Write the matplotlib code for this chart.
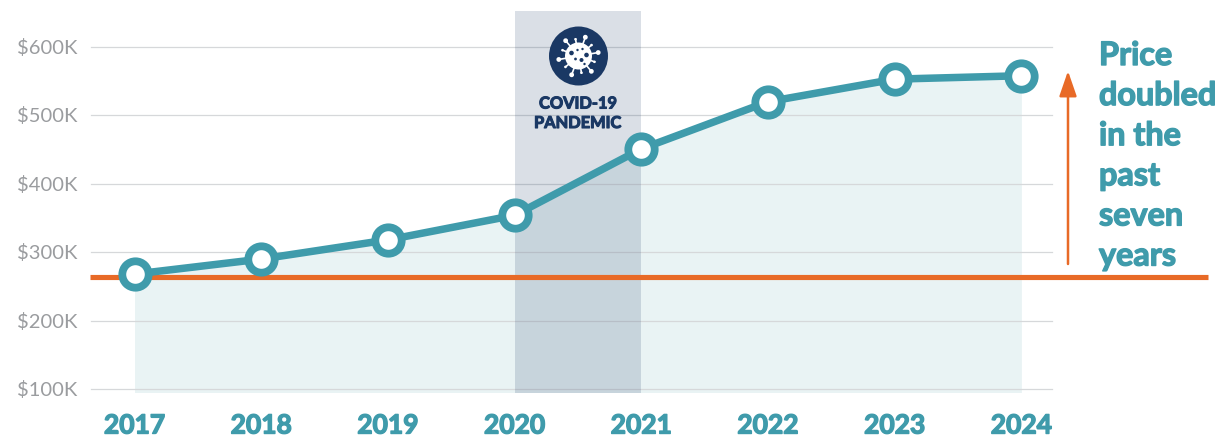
import numpy as np
import matplotlib
matplotlib.use("Agg")
import matplotlib.pyplot as plt
import matplotlib.patheffects as pe
from matplotlib.patches import Circle

years = [2017, 2018, 2019, 2020, 2021, 2022, 2023, 2024]
prices = [268, 290, 318, 354, 451, 520, 553, 558]
y_ticks = [100, 200, 300, 400, 500, 600]
y_labels = ["$100K", "$200K", "$300K", "$400K", "$500K", "$600K"]
base_price = 263.7
note_lines = ["Price", "doubled", "in the", "past", "seven", "years"]

TEAL = "#3f9bab"
ORANGE = "#e86a27"
NAVY = "#1a3864"
W, H = 1225, 439

# helpers: reference pixels -> data
def px_x(px):
    return 2017 + (px - 134.5) / 126.7
def px_y(py):
    return 100 + (390 - py) / 0.684

# Lato here tops out at bold, thicken it a little
def heavy(color, w):
    return [pe.withStroke(linewidth=w, foreground=color)]

fig = plt.figure(figsize=(W / 100, H / 100), dpi=100)
ax = fig.add_axes([0, 0, 1, 1])
ax.set_xlim(px_x(0), px_x(W))
ax.set_ylim(px_y(H), px_y(0))
ax.axis("off")

# grid + labels
for t, lab in zip(y_ticks, y_labels):
    ax.plot([px_x(91), px_x(1052)], [t, t], color="#d6d8da", lw=0.9, zorder=1)
    ax.text(px_x(77), t, lab, ha="right", va="center", color="#9a9c9f",
            fontsize=14.5, family="Lato")

# area under line
ax.fill_between(years, prices, px_y(393.5), color="#e9f3f4", lw=0, zorder=0)
# pandemic band
ax.axvspan(2020, 2021, ymin=(H - 393.5) / H, ymax=(H - 12) / H, color=NAVY,
           alpha=0.16, lw=0, zorder=2)

ax.plot([px_x(90), px_x(1208)], [base_price, base_price], color=ORANGE, lw=3.7,
        solid_capstyle="butt", zorder=3)
ax.plot(years, prices, color=TEAL, lw=5.4, marker="o", ms=19, mfc="white",
        mec=TEAL, mew=5.6, zorder=4)

for y in years:
    ax.text(y, px_y(426.5), str(y), ha="center", va="center", color=TEAL,
            fontsize=19, family="Lato", weight="bold", path_effects=heavy(TEAL, 1.0))

# arrow
ax.annotate("", xy=(px_x(1068), px_y(72)), xytext=(px_x(1068), px_y(265)),
            arrowprops=dict(arrowstyle="-|>,head_length=1.1,head_width=0.38",
                            color=ORANGE, lw=1.8, shrinkA=0, shrinkB=0,
                            mutation_scale=14), zorder=3)

# note on right
for i, line in enumerate(note_lines):
    ax.text(px_x(1099), px_y(56.5 + i * 40.1), line, ha="left", va="center",
            color=TEAL, fontsize=23.3, family="Lato", weight="bold",
            path_effects=heavy(TEAL, 1.0))

# covid label
ax.text(px_x(578), px_y(105.5), "COVID-19", ha="center", va="center", color=NAVY,
        fontsize=11.8, family="Lato", weight="bold", path_effects=heavy(NAVY, 0.8))
ax.text(px_x(578), px_y(125), "PANDEMIC", ha="center", va="center", color=NAVY,
        fontsize=11.8, family="Lato", weight="bold", path_effects=heavy(NAVY, 0.8))

# virus icon, own little axes in pixel units
icon = fig.add_axes([548.5 / W, 1 - 87 / H, 60 / W, 60 / H])
icon.set_xlim(-30, 30)
icon.set_ylim(-30, 30)
icon.axis("off")
icon.add_patch(Circle((0, 0), 29.5, color=NAVY, lw=0))
for a in np.arange(10, 370, 30):
    c, s = np.cos(np.radians(a)), np.sin(np.radians(a))
    r = 20 if (a - 10) % 60 == 0 else 17
    icon.plot([0, r * c], [0, r * s], color="white", lw=1.2, zorder=1)
    icon.add_patch(Circle((r * c, r * s), 2.4 if (a - 10) % 60 == 0 else 1.3,
                          color="white", lw=0, zorder=1))
icon.add_patch(Circle((0, 0), 13.5, color="white", lw=0, zorder=2))
for dx, dy, dr in [(-7, 3, 2.3), (3, -4, 2), (8, 1, 2.3), (-1, 6, 1.2), (4, 7, 1.2), (-3, -3, 1.4), (6, -8, 1.2)]:
    icon.add_patch(Circle((dx, dy), dr, color=NAVY, lw=0, zorder=3))

fig.savefig("out.png", dpi=100)
